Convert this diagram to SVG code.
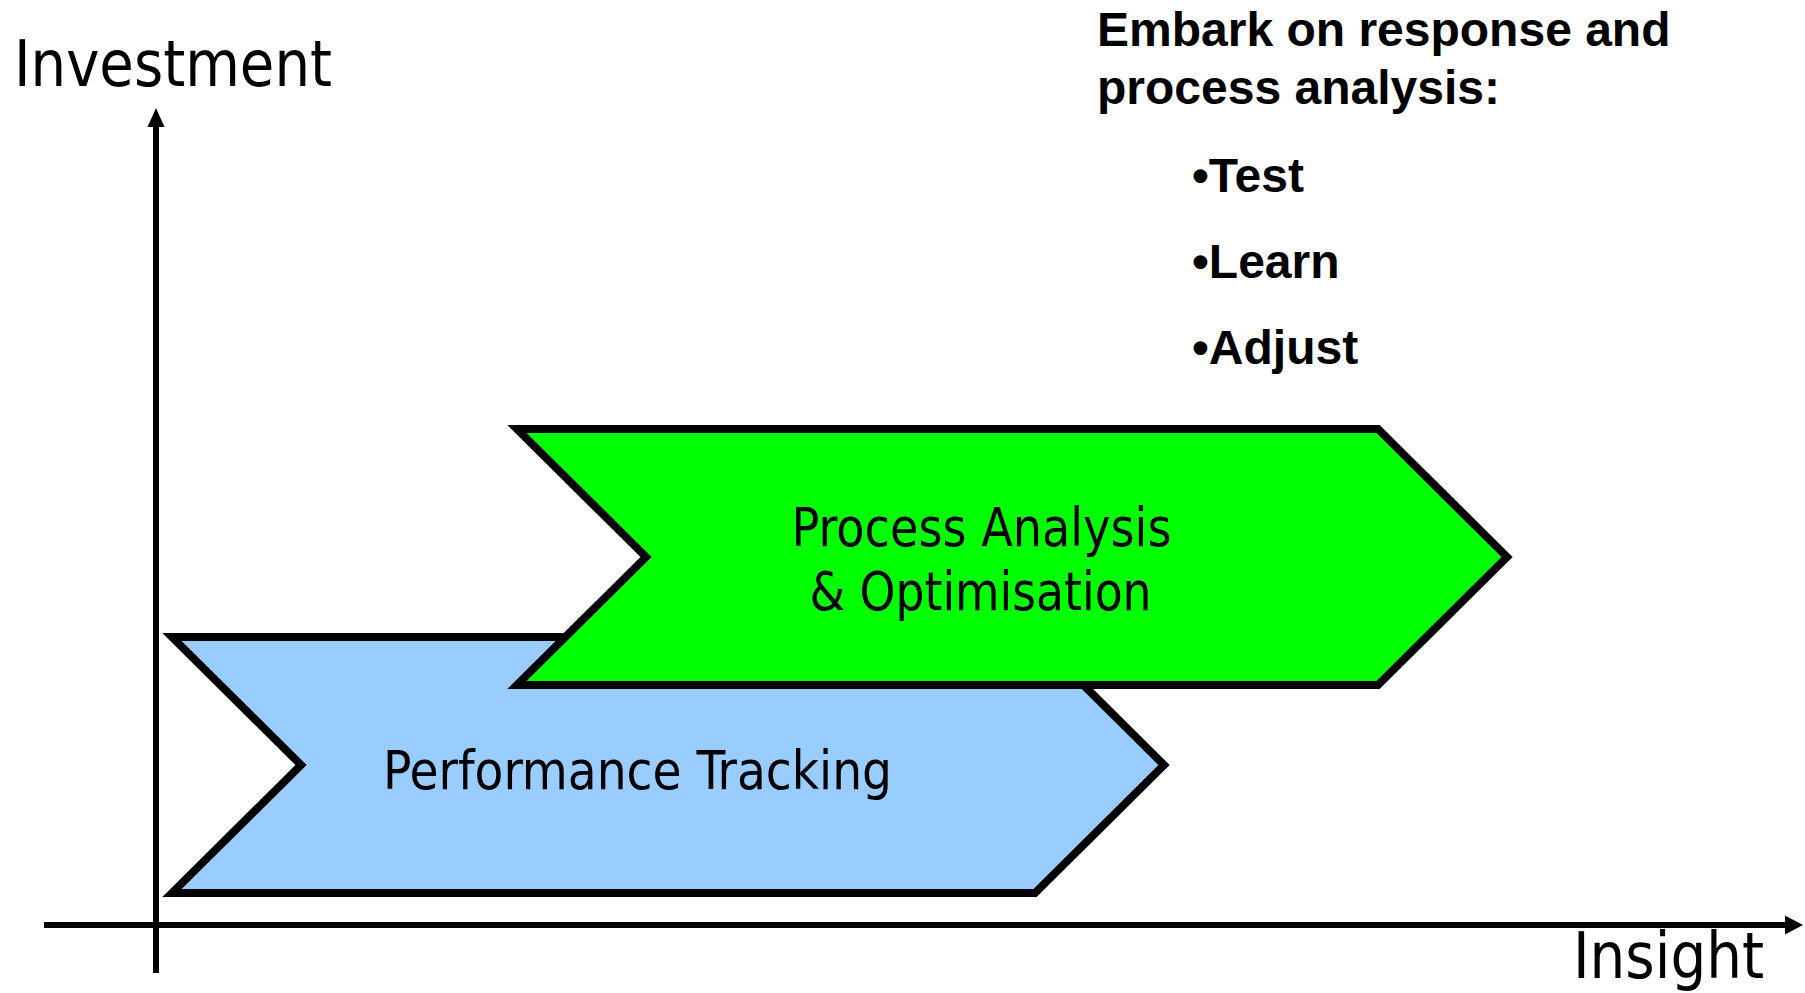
<svg xmlns="http://www.w3.org/2000/svg" width="1805" height="993" viewBox="0 0 1805 993">
  <style>
    .shape { stroke: #000; stroke-width: 8; stroke-linejoin: miter; }
    .tah { font-family: "DejaVu Sans", "Liberation Sans", sans-serif; font-stretch: condensed; fill: #000; }
    .bold { font-family: "Liberation Sans", Arial, sans-serif; font-weight: bold; font-size: 48px; fill: #000; }
    .axis { stroke: #000; stroke-width: 6; fill: none; }
  </style>
  <rect x="0" y="0" width="1805" height="993" fill="#fff"/>

  <g id="connectors">
    <line class="axis" x1="156" y1="973" x2="156" y2="124"/>
    <polygon points="156,108 147.5,127 164.5,127" fill="#000"/>
    <line class="axis" x1="44" y1="925" x2="1787" y2="925"/>
    <polygon points="1803,925 1785,915.5 1785,934.5" fill="#000"/>
  </g>

  <g id="axis-labels">
    <text class="tah" x="14" y="86" font-size="64" textLength="318" lengthAdjust="spacingAndGlyphs">Investment</text>
    <text class="tah" x="1573" y="978" font-size="64" textLength="191" lengthAdjust="spacingAndGlyphs">Insight</text>
  </g>

  <g id="performance-tracking">
    <polygon class="shape" fill="#99CCFF" points="172,637 1035,637 1164,765 1035,893 172,893 301,765"/>
    <text class="tah" x="383" y="789" font-size="53" textLength="509" lengthAdjust="spacingAndGlyphs">Performance Tracking</text>
  </g>

  <g id="process-analysis">
    <polygon class="shape" fill="#00FF00" points="517,429 1378,429 1507,557 1378,685 517,685 646,557"/>
    <text class="tah" x="981.5" y="546" font-size="53" text-anchor="middle" textLength="380" lengthAdjust="spacingAndGlyphs">Process Analysis</text>
    <text class="tah" x="980.5" y="609.5" font-size="53" text-anchor="middle" textLength="342" lengthAdjust="spacingAndGlyphs">&amp; Optimisation</text>
  </g>

  <g id="notes">
    <text class="bold" x="1097" y="46">Embark on response and</text>
    <text class="bold" x="1097" y="104">process analysis:</text>
    <text class="bold" x="1192" y="192">•Test</text>
    <text class="bold" x="1192" y="278">•Learn</text>
    <text class="bold" x="1192" y="364">•Adjust</text>
  </g>
</svg>
